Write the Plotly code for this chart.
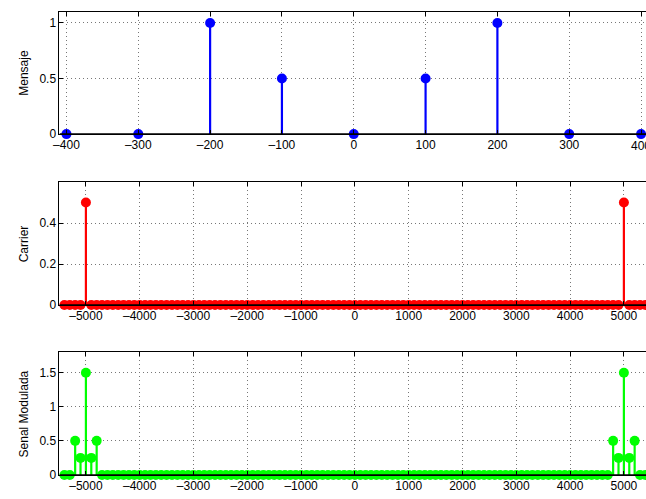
import numpy as np
import plotly.graph_objects as go

W, H = 646, 499

# ---- data ----
msg_freq = [-400, -300, -200, -100, 0, 100, 200, 300, 400]
msg_vals = [0, 0, 1, 0.5, 0, 0.5, 1, 0, 0]

spec_freq = list(range(-5400, 5401, 100))
carrier_peak_freq = [-5000, 5000]
carrier_peak_vals = [0.5, 0.5]
mod_peak_freq = [-5200, -5100, -5000, -4900, -4800, 4800, 4900, 5000, 5100, 5200]
mod_peak_vals = [0.5, 0.25, 1.5, 0.25, 0.5, 0.5, 0.25, 1.5, 0.25, 0.5]


def sparse(freqs, pk_f, pk_v):
    d = dict(zip(pk_f, pk_v))
    return [d.get(f, 0.0) for f in freqs]


carrier_vals = sparse(spec_freq, carrier_peak_freq, carrier_peak_vals)
mod_vals = sparse(spec_freq, mod_peak_freq, mod_peak_vals)

# ---- layout geometry (pixels) ----
left = 54
panels = [
    dict(top=12, bottom=136, xr=[-409.7, 406.9], yr=[0, 1.1],
         yt=[0, 0.5, 1], ytl=["0", "0.5", "1"],
         xt=msg_freq, color="#0000FF", title="Mensaje",
         x=msg_freq, y=msg_vals),
    dict(top=184.7, bottom=309.3, xr=[-5491, 5411], yr=[0, 0.6],
         yt=[0, 0.2, 0.4], ytl=["0", "0.2", "0.4"],
         xt=list(range(-5000, 5001, 1000)), color="#FF0000", title="Carrier",
         x=spec_freq, y=carrier_vals),
    dict(top=357.3, bottom=481.7, xr=[-5491, 5411], yr=[0, 1.8],
         yt=[0, 0.5, 1, 1.5], ytl=["0", "0.5", "1", "1.5"],
         xt=list(range(-5000, 5001, 1000)), color="#00FF00", title="Senal Modulada",
         x=spec_freq, y=mod_vals),
]

fig = go.Figure()
font = dict(family="Liberation Sans, Arial, sans-serif", size=12, color="black")
annotations = []


def lab(v):
    return str(v).replace("-", "\u2013")


for i, p in enumerate(panels, start=1):
    xa = "x" if i == 1 else f"x{i}"
    ya = "y" if i == 1 else f"y{i}"
    # stems
    sx, sy = [], []
    for xv, yv in zip(p["x"], p["y"]):
        if yv != 0:
            sx += [xv, xv, None]
            sy += [0, yv, None]
    fig.add_trace(go.Scatter(x=sx, y=sy, mode="lines",
                             line=dict(color=p["color"], width=2.2),
                             xaxis=xa, yaxis=ya, showlegend=False, hoverinfo="skip"))
    # markers
    fig.add_trace(go.Scatter(x=p["x"], y=p["y"], mode="markers", cliponaxis=False,
                             marker=dict(color=p["color"], size=10, line=dict(width=0)),
                             xaxis=xa, yaxis=ya, showlegend=False))
    # baseline
    fig.add_trace(go.Scatter(x=[p["xr"][0], p["xr"][1]], y=[0, 0], mode="lines",
                             cliponaxis=False,
                             line=dict(color="black", width=1.5),
                             xaxis=xa, yaxis=ya, showlegend=False, hoverinfo="skip"))

    ydom = [(H - p["bottom"]) / H, (H - p["top"]) / H]
    axis_common = dict(showline=True, linecolor="black", linewidth=1,
                       ticks="inside", ticklen=4, tickcolor="black",
                       showgrid=True, gridcolor="#777777", griddash="1px,3px",
                       gridwidth=1, zeroline=False, tickfont=font,
                       fixedrange=True)
    fig.update_layout(**{
        ("xaxis" if i == 1 else f"xaxis{i}"): dict(
            domain=[left / W, 1], range=p["xr"], anchor=ya,
            tickvals=p["xt"], ticktext=[lab(v) for v in p["xt"]],
            mirror="ticks", **axis_common),
        ("yaxis" if i == 1 else f"yaxis{i}"): dict(
            domain=ydom, range=p["yr"], anchor=xa,
            tickvals=p["yt"], ticktext=p["ytl"], **axis_common),
    })
    annotations.append(dict(text=p["title"], textangle=-90, x=18 / W,
                            y=(H - (p["top"] + p["bottom"]) / 2) / H,
                            xref="paper", yref="paper", showarrow=False,
                            xanchor="center", yanchor="middle", font=font))

# edge tick label that plotly hides because it overflows the page (cut off as in the reference)
annotations.append(dict(text=lab(msg_freq[-1]), x=msg_freq[-1], y=0, xref="x", yref="y",
                        yshift=-3, showarrow=False, xanchor="center", yanchor="top",
                        font=font))

fig.update_layout(width=W, height=H, margin=dict(l=0, r=0, t=0, b=0),
                  paper_bgcolor="white", plot_bgcolor="white",
                  annotations=annotations, font=font)

fig.write_html("out.html")
